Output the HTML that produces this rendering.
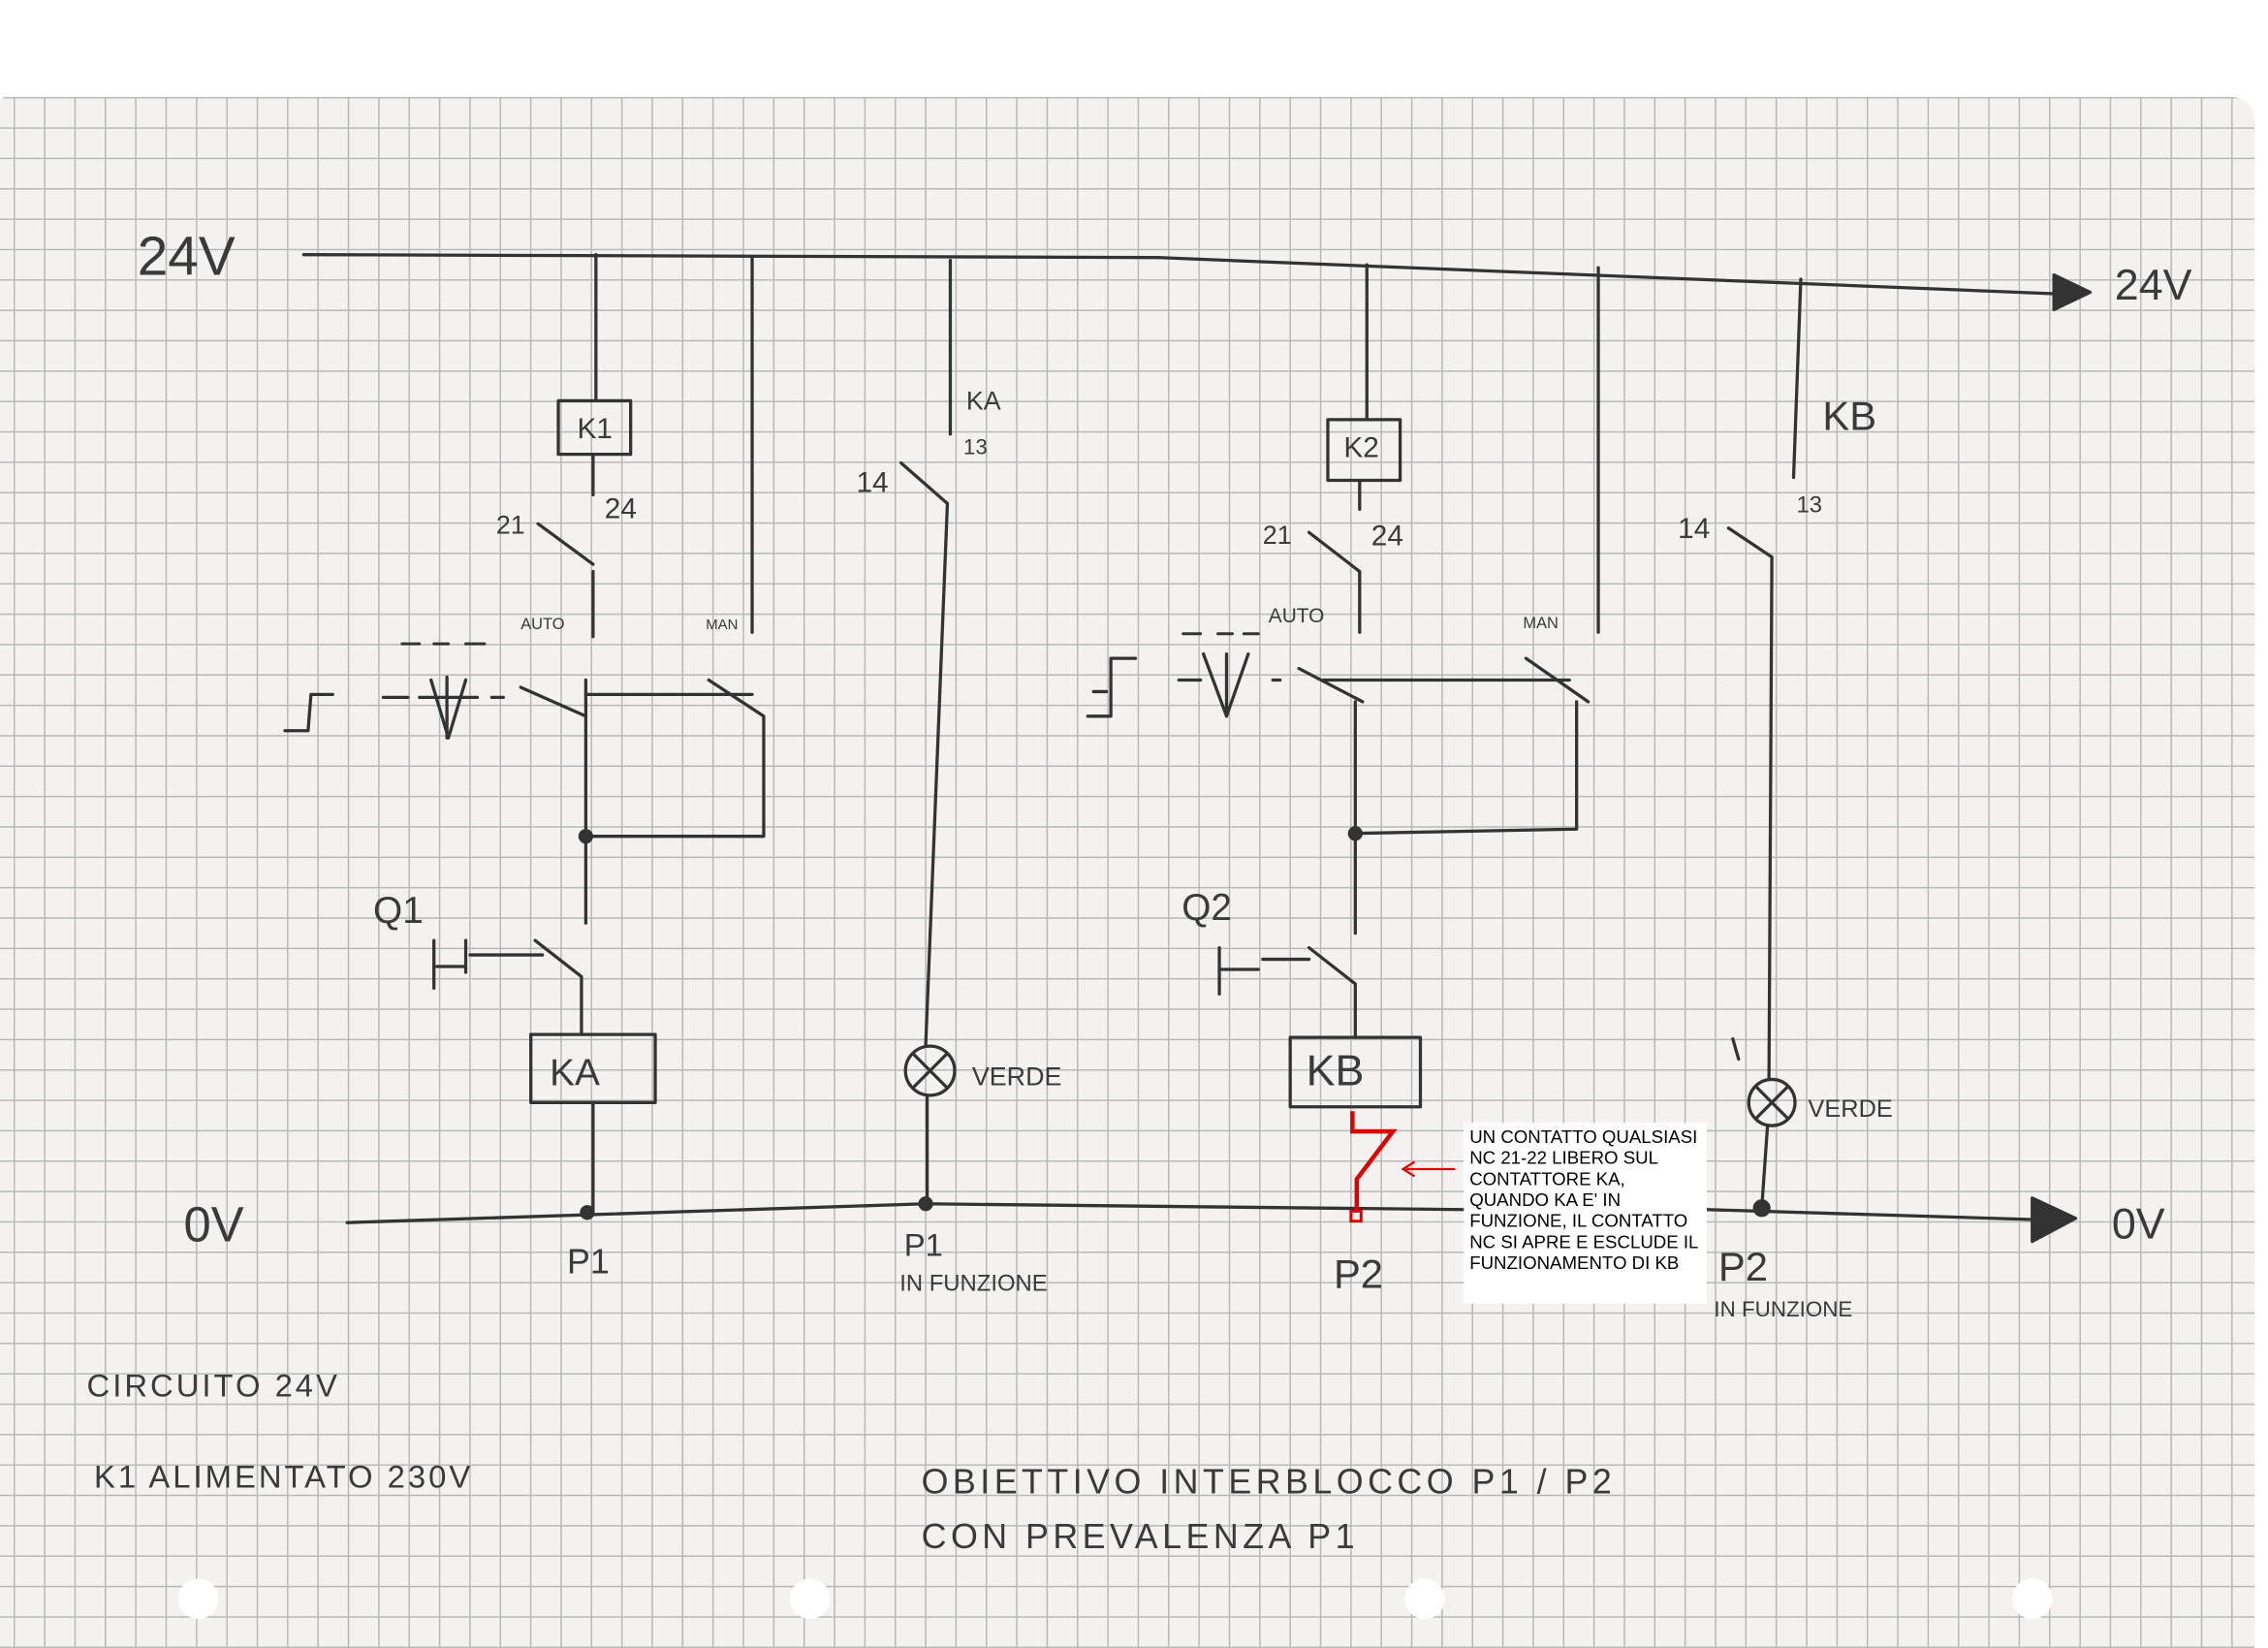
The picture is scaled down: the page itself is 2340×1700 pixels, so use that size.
<!DOCTYPE html>
<html><head><meta charset="utf-8"><style>
html,body{margin:0;padding:0;background:#fff;}
#paper{position:absolute;left:0;top:100px;width:2326px;height:1600px;background-color:#f3f2f0;
background-image:linear-gradient(to right,#b8b8b8 1.3px,transparent 1.3px),linear-gradient(to bottom,#b8b8b8 1.3px,transparent 1.3px);
background-size:31.35px 31.35px;background-position:14px 0px;border-top-right-radius:24px;border-top-left-radius:6px;}
svg{position:absolute;left:0;top:0;display:block;}
.h{font-family:"Liberation Sans",sans-serif;fill:#3a3a3a;}
</style></head><body>
<div id="paper"></div>
<svg width="2340" height="1700" viewBox="0 0 1568 1139" preserveAspectRatio="none" xmlns="http://www.w3.org/2000/svg">
<g fill="#fff"><circle cx="137" cy="1105" r="14"/><circle cx="560" cy="1105" r="14"/><circle cx="985" cy="1105" r="14"/><circle cx="1405" cy="1105" r="14"/></g>

<g stroke="#333" stroke-width="2.2" fill="none" stroke-linecap="round" stroke-linejoin="round">
<path d="M210 176 L800 178 L1420 203"/>
<path d="M1420 190 L1445 202 L1420 214 Z" fill="#333"/>
<path d="M412 176 V277"/><path d="M520 178 V437"/><path d="M657 180 V300"/><path d="M945 183 V290"/><path d="M1105 185 V437"/><path d="M1245 193 L1240 330"/>
<rect x="386" y="277" width="50" height="37"/>
<path d="M410 314 V342"/>
<path d="M372 362 L410 390 M410 395 V440"/>
<path d="M360 475 L405 495 M405 470 V638"/>
<path d="M405 480 H520 M490 470 L528 495 V578 H405"/>
<circle cx="405" cy="578" r="4" fill="#333"/>
<path d="M197 505 H213 L215 480 H230"/>
<path d="M265 482 H282 M290 482 H330 M340 482 H348 M298 470 L310 510 L322 470 M309 468 V510"/>
<path d="M278 445 H290 M300 445 H310 M322 445 H335" stroke-width="2"/>
<path d="M300 650 V683 M302 668 H322 M322 650 V672 M325 660 H375 M370 650 L402 675 V715"/>
<rect x="367" y="715" width="86" height="47"/>
<path d="M410 762 V838"/>
<path d="M623 320 L655 348 L640 722"/>
<circle cx="643" cy="740" r="17"/><path d="M631 728 L655 752 M655 728 L631 752"/>
<path d="M641 757 V832"/>
<rect x="918" y="290" width="50" height="42"/>
<path d="M940 332 V352 M905 368 L940 395 V437"/>
<path d="M898 462 L942 485 M937 485 V645 M937 576 L1090 573 V485 M1055 455 L1098 485 M915 470 H1085 M880 470 H885"/>
<circle cx="937" cy="576" r="4" fill="#333"/>
<path d="M768 495 V455 H785 M752 495 H768 M756 478 H765"/>
<path d="M815 470 H830 M832 452 L848 495 L863 452 M848 452 V495"/>
<path d="M818 438 H830 M842 438 H852 M860 438 H870" stroke-width="2"/>
<path d="M843 655 V687 M843 670 H870 M873 663 H905 M905 655 L937 680 V717"/>
<rect x="892" y="717" width="90" height="48"/>
<path d="M1195 365 L1225 385 L1223 745"/>
<circle cx="1225" cy="762" r="16"/><path d="M1214 751 L1236 773 M1236 751 L1214 773"/>
<path d="M1222 778 L1218 835 M1198 718 L1202 732"/>
<path d="M240 845 L640 832 L1012 836 M1180 836 L1410 843"/>
<path d="M1405 828 L1435 842 L1405 858 Z" fill="#333"/>
<circle cx="406" cy="838" r="4" fill="#333"/><circle cx="640" cy="832" r="4" fill="#333"/><circle cx="1218" cy="835" r="5" fill="#333"/>
</g>
<g stroke="#e00000" stroke-width="3" fill="none">
<path d="M935 768 V782 H963 L938 815 V838"/>
<rect x="934" y="837" width="7" height="7" stroke-width="2"/>
<path d="M1006 808 H972 M978 803 L970 808 L978 813" stroke-width="1.5"/>
</g>
<rect x="1012" y="776" width="168" height="125" fill="#fff"/>
<g font-family="Liberation Sans, sans-serif" font-size="12.5" fill="#000">
<text x="1016" y="790">UN CONTATTO QUALSIASI</text>
<text x="1016" y="804.5">NC 21-22 LIBERO SUL</text>
<text x="1016" y="819">CONTATTORE KA,</text>
<text x="1016" y="833.5">QUANDO KA E' IN</text>
<text x="1016" y="848">FUNZIONE, IL CONTATTO</text>
<text x="1016" y="862.5">NC SI APRE E ESCLUDE IL</text>
<text x="1016" y="877">FUNZIONAMENTO DI KB</text>
</g>
<g class="h">
<text x="95" y="190" font-size="38">24V</text>
<text x="1462" y="207" font-size="30">24V</text>
<text x="127" y="858" font-size="34">0V</text>
<text x="1460" y="856" font-size="30">0V</text>
<text x="399" y="303" font-size="20">K1</text>
<text x="929" y="316" font-size="20">K2</text>
<text x="380" y="750" font-size="26">KA</text>
<text x="903" y="750" font-size="30">KB</text>
<text x="418" y="358" font-size="20">24</text>
<text x="343" y="369" font-size="18">21</text>
<text x="948" y="377" font-size="20">24</text>
<text x="873" y="376" font-size="18">21</text>
<text x="360" y="435" font-size="11">AUTO</text>
<text x="488" y="435" font-size="10">MAN</text>
<text x="877" y="430" font-size="14">AUTO</text>
<text x="1053" y="434" font-size="11">MAN</text>
<text x="258" y="638" font-size="26">Q1</text>
<text x="817" y="636" font-size="26">Q2</text>
<text x="668" y="283" font-size="18">KA</text>
<text x="666" y="314" font-size="15">13</text>
<text x="592" y="340" font-size="20">14</text>
<text x="1260" y="297" font-size="28">KB</text>
<text x="1242" y="354" font-size="16">13</text>
<text x="1160" y="372" font-size="20">14</text>
<text x="672" y="750" font-size="18">VERDE</text>
<text x="1250" y="772" font-size="17">VERDE</text>
<text x="392" y="880" font-size="24">P1</text>
<text x="625" y="868" font-size="22">P1</text>
<text x="622" y="892" font-size="16">IN FUNZIONE</text>
<text x="922" y="890" font-size="28">P2</text>
<text x="1188" y="885" font-size="28">P2</text>
<text x="1185" y="910" font-size="15">IN FUNZIONE</text>
<text x="60" y="965" font-size="22" letter-spacing="2">CIRCUITO 24V</text>
<text x="65" y="1028" font-size="22" letter-spacing="2">K1  ALIMENTATO  230V</text>
<text x="637" y="1032" font-size="24" letter-spacing="3">OBIETTIVO  INTERBLOCCO  P1 / P2</text>
<text x="637" y="1070" font-size="24" letter-spacing="3">CON  PREVALENZA   P1</text>
</g>
</svg>
</body></html>
